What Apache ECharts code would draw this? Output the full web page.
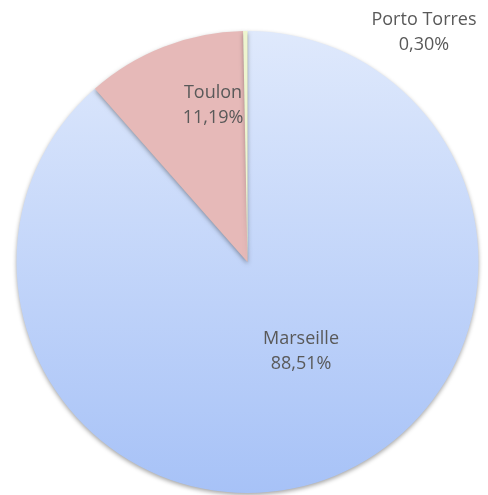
<!DOCTYPE html>
<html>
<head>
<meta charset="utf-8">
<script src="https://cdn.jsdelivr.net/npm/echarts@6/dist/echarts.min.js"></script>
<style>
  html, body { margin: 0; padding: 0; background: #fff; }
  #chart { width: 488px; height: 495px; }
</style>
</head>
<body>
<div id="chart"></div>
<script>
const ports = ['Marseille', 'Toulon', 'Porto Torres'];
const shares = [88.51, 11.19, 0.30];
const labelSpots = [[301, 351], [213, 105], [424, 32]];

const colors = [
  { type: 'linear', x: 0, y: 0, x2: 0, y2: 1, colorStops: [{ offset: 0, color: '#dfe9fc' }, { offset: 1, color: '#a7c2f7' }] },
  '#e6b9b8',
  '#eef5cf'
];

const chart = echarts.init(document.getElementById('chart'));
const fmtPct = (v) => v.toFixed(2).replace('.', ',') + '%';

chart.setOption({
  backgroundColor: '#fff',
  animation: false,
  series: [{
    type: 'pie',
    center: [247.5, 262],
    radius: 231,
    startAngle: 90,
    clockwise: true,
    data: ports.map((p, i) => ({ name: p, value: shares[i], itemStyle: { color: colors[i] } })),
    itemStyle: {
      borderWidth: 0,
      shadowColor: 'rgba(0,0,0,0.35)',
      shadowBlur: 4,
      shadowOffsetY: 2
    },
    label: {
      show: true,
      position: 'inside',
      formatter: (p) => `${p.name}\n${fmtPct(p.value)}`,
      color: '#595959',
      fontFamily: 'Open Sans',
      fontSize: 18,
      lineHeight: 25,
      align: 'center'
    },
    labelLine: { show: false },
    labelLayout: (params) => ({
      x: labelSpots[params.dataIndex][0],
      y: labelSpots[params.dataIndex][1],
      align: 'center',
      verticalAlign: 'middle'
    })
  }]
});
</script>
</body>
</html>
